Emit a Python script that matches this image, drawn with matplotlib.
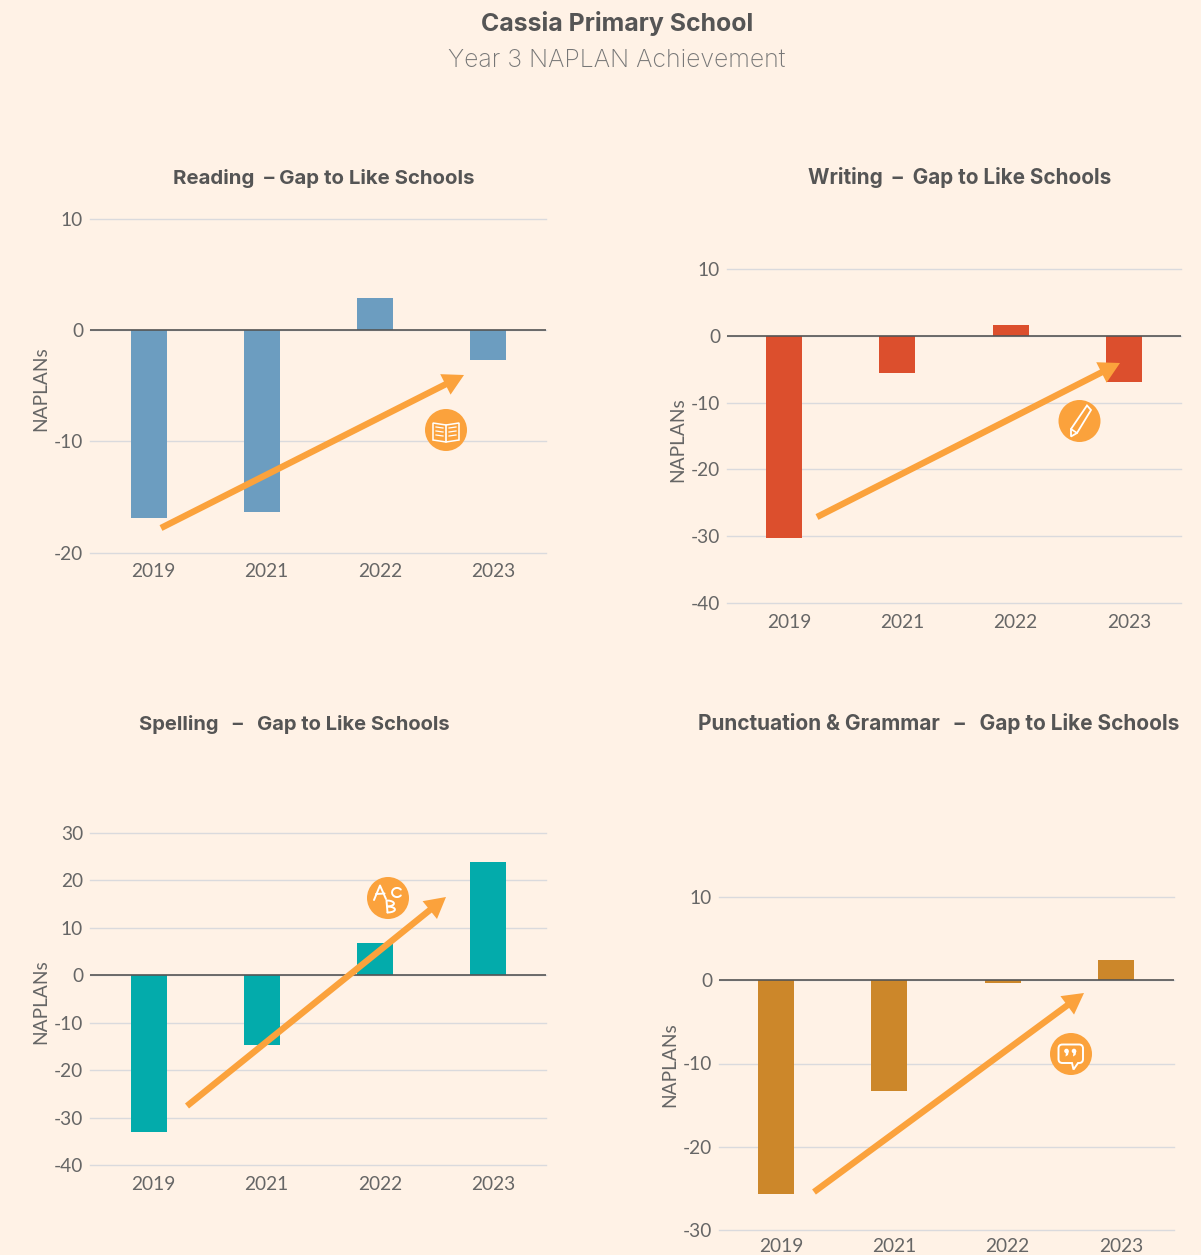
import numpy as np
import matplotlib
matplotlib.use("Agg")
import matplotlib.pyplot as plt
from matplotlib.patches import Circle, Polygon, PathPatch
from matplotlib.path import Path
from matplotlib.transforms import ScaledTranslation

plt.rcParams["axes.unicode_minus"] = False

W, H = 1201, 1255
BG = "#FFF2E6"
ORANGE = "#FBA23C"
TXT = "#666666"
TITLE = "#555555"

years = ["2019", "2021", "2022", "2023"]
reading = [-16.9, -16.4, 2.9, -2.7]
writing = [-30.2, -5.5, 1.6, -6.9]
spelling = [-33.0, -14.8, 6.8, 23.8]
punctuation = [-25.7, -13.3, -0.3, 2.4]

reading_ticks = [-20, -10, 0, 10]
writing_ticks = [-40, -30, -20, -10, 0, 10]
spelling_ticks = [-40, -30, -20, -10, 0, 10, 20, 30]
punctuation_ticks = [-30, -20, -10, 0, 10]

reading_title = "Reading  – Gap to Like Schools"
writing_title = "Writing  –  Gap to Like Schools"
spelling_title = "Spelling   –   Gap to Like Schools"
punctuation_title = "Punctuation & Grammar   –   Gap to Like Schools"

fig = plt.figure(figsize=(W / 100, H / 100), dpi=100, facecolor=BG)


def panel(vals, ticks, color, title, box, bar0, bar3, ylabel_xy, title_cx, title_y, label_dy, tsize):
    x0, x1, ytop, ybot = box
    ax = fig.add_axes([x0 / W, 1 - ybot / H, (x1 - x0) / W, (ybot - ytop) / H], facecolor="none")
    spacing = (bar3 - bar0) / 3
    ax.set_xlim((x0 - bar0) / spacing, (x1 - bar0) / spacing)
    ax.set_ylim(min(ticks), max(ticks))
    ax.bar(range(4), vals, width=36 / spacing, color=color, zorder=3)
    ax.axhline(0, color="#555555", lw=1.2, zorder=4)
    ax.set_yticks(ticks)
    ax.grid(axis="y", color="#DADADD", lw=1.0, zorder=1, clip_on=False)
    for g in ax.get_ygridlines():
        g.set_clip_on(False)
    ax.set_axisbelow(True)
    for s in ax.spines.values():
        s.set_visible(False)
    ax.set_xticks(range(4), years)
    ax.tick_params(length=0, labelsize=13.8, labelcolor=TXT)
    ax.tick_params(axis="y", pad=5)
    ax.tick_params(axis="x", pad=7.8)
    shift = ScaledTranslation(5 / 100, label_dy / 100, fig.dpi_scale_trans)
    for t in ax.get_xticklabels():
        t.set_fontfamily("Lato")
        t.set_transform(t.get_transform() + shift)
    for t in ax.get_yticklabels():
        t.set_fontfamily("Lato")
    fig.text(ylabel_xy[0] / W, 1 - ylabel_xy[1] / H, "NAPLANs", rotation=90, ha="center", va="center",
             family="Lato", fontsize=13.8, color=TXT)
    fig.text(title_cx / W, 1 - title_y / H, title, ha="center", va="center", family="Inter",
             fontweight="bold", fontsize=tsize, color=TITLE)
    return ax


panel(reading, reading_ticks, "#6C9DC0", reading_title, (90, 546, 219, 552.5), 148.5, 488, (41, 389), 323.5, 178, 0, 14.7)
panel(writing, writing_ticks, "#DC4F2D", writing_title, (727, 1181, 269, 603), 784, 1124, (678, 440), 959.5, 178, 0, 14.9)
panel(spelling, spelling_ticks, "#03ABAB", spelling_title, (90, 546, 833, 1165), 148.5, 488, (41, 1002), 294.5, 724, 0, 14.5)
panel(punctuation, punctuation_ticks, "#CC872A", punctuation_title, (719, 1174, 897, 1230), 776, 1116, (670, 1065), 939, 724, 3, 15.0)

fig.text(617 / W, 1 - 23 / H, "Cassia Primary School", ha="center", va="center", family="Inter",
         fontweight="bold", fontsize=17.9, color=TITLE)
fig.text(617 / W, 1 - 60.5 / H, "Year 3 NAPLAN Achievement", ha="center", va="center", family="Inter",
         fontweight="light", fontsize=17.9, color="#777777")

ov = fig.add_axes([0, 0, 1, 1], facecolor="none")
ov.set_xlim(0, W)
ov.set_ylim(H, 0)
ov.axis("off")

arrows = [((161, 528), (464, 375)), ((817, 517), (1120, 363)), ((187, 1106), (446, 897)), ((814, 1192), (1084, 993))]
for a, b in arrows:
    ov.annotate("", xy=b, xytext=a, xycoords="data", textcoords="data", zorder=8,
                arrowprops=dict(width=4.6, headwidth=16.5, headlength=15, shrink=0, color=ORANGE, lw=0))

for c in [(446, 430), (1079.5, 421), (388, 898), (1071, 1054)]:
    ov.add_patch(Circle(c, 21, color=ORANGE, lw=0, zorder=9))

WH = dict(color="white", lw=1.2, zorder=10, solid_capstyle="round", solid_joinstyle="round")
# book
cx, cy = 446, 430
ov.add_patch(Polygon([(cx - 13, cy - 7), (cx, cy - 5), (cx + 13, cy - 7), (cx + 13, cy + 10), (cx, cy + 12), (cx - 13, cy + 10)],
                     closed=True, fc="none", ec="white", lw=1.1, zorder=10))
ov.plot([cx, cx], [cy - 5, cy + 12], **WH)
for r in (-2, 2, 6):
    ov.plot([cx - 10, cx - 3], [cy + r - 1, cy + r], color="white", lw=0.9, zorder=10)
    ov.plot([cx + 3, cx + 10], [cy + r, cy + r - 1], color="white", lw=0.9, zorder=10)
# pencil
ov.add_patch(Polygon([(1071, 436.5), (1071, 429), (1087, 405.5), (1091, 410), (1077, 433)],
                     closed=True, fc="none", ec="white", lw=1.3, zorder=10))
ov.plot([1071, 1077], [429, 433], **WH)
# handwritten A, C, B
HW = dict(color="white", lw=1.4, zorder=10, solid_capstyle="round", solid_joinstyle="round")
ov.plot([374, 380, 386], [900, 885.5, 899], **HW)
ov.plot([376, 384.5], [894, 893.5], **HW)
ang = np.radians(np.arange(40, 321, 20))
ov.plot(397 + 5 * np.cos(ang), 892.5 + 4.6 * np.sin(ang), **HW)
ov.plot([386.5, 387.5], [900.5, 912.5], **HW)
ang2 = np.radians(np.arange(-90, 91, 20))
ov.plot(387 + 7 * np.cos(ang2), 903.5 + 3 * np.sin(ang2), **HW)
ov.plot(387.5 + 7.5 * np.cos(ang2), 909.5 + 3 * np.sin(ang2), **HW)
# speech bubble
x0, x1, y0, y1, r = 1058.5, 1083, 1044.5, 1063, 4
verts = [(x0 + r, y0), (x1 - r, y0), (x1, y0), (x1, y0 + r), (x1, y1 - r), (x1, y1), (x1 - r, y1), (1078, y1),
         (1073.5, 1069.5), (1072, y1), (x0 + r, y1), (x0, y1), (x0, y1 - r), (x0, y0 + r), (x0, y0), (x0 + r, y0)]
codes = [Path.MOVETO, Path.LINETO, Path.CURVE3, Path.CURVE3, Path.LINETO, Path.CURVE3, Path.CURVE3, Path.LINETO,
         Path.LINETO, Path.LINETO, Path.LINETO, Path.CURVE3, Path.CURVE3, Path.LINETO, Path.CURVE3, Path.CURVE3]
ov.add_patch(PathPatch(Path(verts, codes), fc="none", ec="white", lw=1.4, zorder=10))
for qx in (1066.5, 1074):
    ov.add_patch(Circle((qx, 1051), 2.3, color="white", lw=0, zorder=10))
    ov.add_patch(Polygon([(qx + 2.3, 1051), (qx + 1.5, 1055), (qx - 1, 1056.5), (qx - 0.5, 1052)],
                         closed=True, color="white", lw=0, zorder=10))

fig.savefig("out.png", dpi=100, facecolor=BG)
